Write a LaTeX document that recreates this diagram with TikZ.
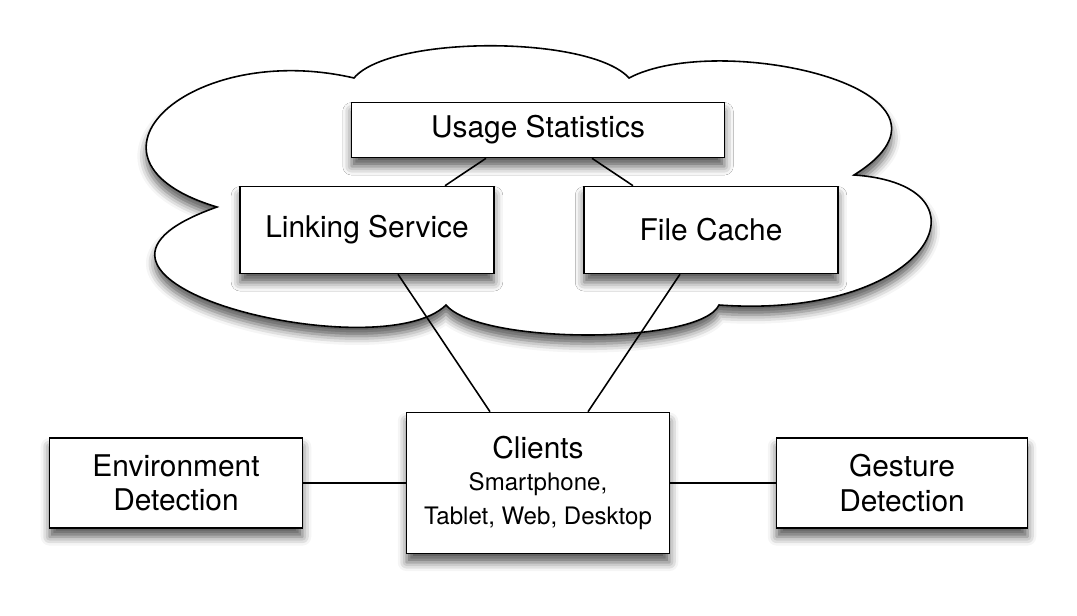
\documentclass[tikz,border=0pt]{standalone}
\usepackage{fontspec}
\setmainfont{TeX Gyre Heros}
\usepackage{tikz}
\usetikzlibrary{calc,shadows,shadows.blur}

\newcommand{\subfont}{\fontsize{13.7}{16.5}\selectfont}

\tikzset{
    soft/.style={blur shadow={shadow xshift=0pt, shadow yshift=-5pt, shadow blur radius=5pt, shadow opacity=65}},
    block/.style={draw, line width=0.9pt, fill=white, soft, align=center, inner sep=0pt, font=\fontsize{17}{19.5}\selectfont},
    link/.style={line width=0.9pt}
}

\begin{document}
\begin{tikzpicture}[x=0.02cm, y=-0.02cm]
    \useasboundingbox (0,0) rectangle (1077,615);

    % Cloud
    \draw[line width=0.9pt, fill=white, soft]
        (217,207) .. controls (60,160) and (190,40) .. (354,78)
                  .. controls (390,35) and (590,35) .. (629,78)
                  .. controls (720,30) and (990,90) .. (854,175)
                  .. controls (1000,185) and (930,320) .. (719,305)
                  .. controls (700,345) and (480,345) .. (446,305)
                  .. controls (380,370) and (10,280) .. (217,207) -- cycle;

    % Services in the cloud
    \node[block, minimum width=7.46cm, minimum height=1.1cm] (us) at (538,130) {Usage Statistics};
    \node[block, minimum width=5.08cm, minimum height=1.74cm] (ls) at (367,230) {Linking Service};
    \node[block, minimum width=5.08cm, minimum height=1.74cm] (fc) at (711,230) {File Cache};

    % Clients and detection
    \node[block, minimum width=5.26cm, minimum height=2.82cm] (cl) at (538,483)
        {Clients\\[-1pt]\subfont Smartphone,\\\subfont Tablet, Web, Desktop};
    \node[block, minimum width=5.06cm, minimum height=1.8cm] (env) at (176,483) {Environment\\Detection};
    \node[block, minimum width=5.02cm, minimum height=1.8cm] (ges) at (902,483) {Gesture\\Detection};

    % Connections
    \draw[link] ($(us.south)+(-52,0)$) -- ($(ls.north)+(78,0)$);
    \draw[link] ($(us.south)+(54,0)$) -- ($(fc.north)+(-78,0)$);
    \draw[link] ($(ls.south)+(31,0)$) -- ($(cl.north)+(-48,0)$);
    \draw[link] ($(fc.south)+(-31,0)$) -- ($(cl.north)+(50,0)$);
    \draw[link] (env.east) -- (cl.west);
    \draw[link] (cl.east) -- (ges.west);
\end{tikzpicture}
\end{document}
